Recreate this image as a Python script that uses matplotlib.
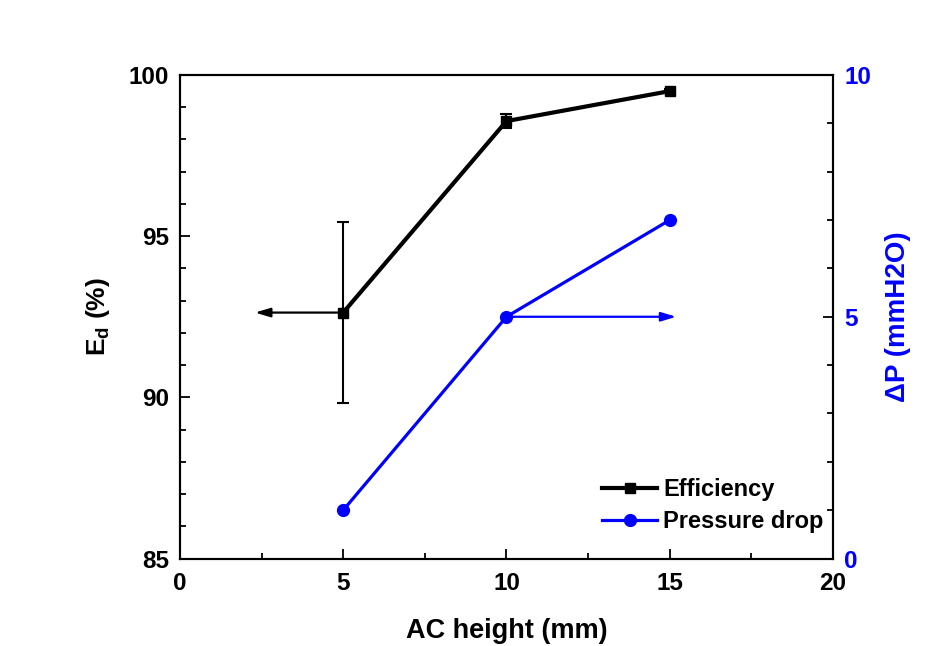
import matplotlib.pyplot as plt
from matplotlib.lines import Line2D
from matplotlib.ticker import MultipleLocator

plt.rcParams['font.family'] = ['Liberation Sans', 'DejaVu Sans']
plt.rcParams['font.weight'] = 'bold'
plt.rcParams['mathtext.default'] = 'bf'

height = [5, 10, 15]
efficiency = [92.63, 98.57, 99.5]
efficiency_err = [2.8, 0.22, 0.07]
pressure = [1, 5, 7]

fig = plt.figure(figsize=(9.47, 6.46), dpi=100)
ax = fig.add_axes([0.190, 0.1354, 0.6896, 0.7485])
ax2 = ax.twinx()

ax.errorbar(height, efficiency, yerr=efficiency_err, color="black", lw=3,
            marker="s", ms=6.5, elinewidth=1.5, capsize=4.5, capthick=1.5)
ax2.plot(height, pressure, color="blue", lw=2.3, marker="o", ms=8.5)

# arrows pointing to each series' axis
head = "-|>,head_length=0.6,head_width=0.18"
ax.annotate("", xy=(2.3, efficiency[0]), xytext=(height[0], efficiency[0]),
            arrowprops=dict(arrowstyle=head, color="black", lw=1.6,
                            mutation_scale=15, shrinkA=0, shrinkB=0))
ax2.annotate("", xy=(15.2, pressure[1]), xytext=(height[1], pressure[1]),
             arrowprops=dict(arrowstyle=head, color="blue", lw=1.6,
                             mutation_scale=15, shrinkA=0, shrinkB=0))

ax.set_xlim(0, 20)
ax.set_ylim(85, 100)
ax2.set_ylim(0, 10)

ax.xaxis.set_major_locator(MultipleLocator(5))
ax.xaxis.set_minor_locator(MultipleLocator(2.5))
ax.yaxis.set_major_locator(MultipleLocator(5))
ax.yaxis.set_minor_locator(MultipleLocator(1))
ax2.yaxis.set_major_locator(MultipleLocator(5))
ax2.yaxis.set_minor_locator(MultipleLocator(1))

for a in (ax, ax2):
    for s in a.spines.values():
        s.set_linewidth(1.5)
    a.tick_params(which="major", direction="in", length=7, width=1.3,
                  labelsize=17.5, pad=8)
    a.tick_params(which="minor", direction="in", length=4, width=1.3)
ax.tick_params(axis="x", pad=10)
ax2.tick_params(axis="y", labelcolor="blue")

ax.set_xlabel("AC height (mm)", fontsize=19.5, fontweight="bold", labelpad=16)
ax.set_ylabel("E$_\\mathregular{d}$ (%)", fontsize=19, fontweight="bold",
              labelpad=12)
ax2.set_ylabel("ΔP (mmH2O)", fontsize=20, fontweight="bold", color="blue",
               labelpad=10)

handles = [Line2D([], [], color="black", lw=3, marker="s", ms=6.5),
           Line2D([], [], color="blue", lw=2.3, marker="o", ms=8.5)]
ax2.legend(handles, ["Efficiency", "Pressure drop"], loc="upper left",
           frameon=False, fontsize=17, bbox_to_anchor=(0.646, 0.166),
           borderpad=0, borderaxespad=0, handlelength=2.35,
           handletextpad=0.25, labelspacing=0.38)

fig.savefig("out.png", dpi=100)
